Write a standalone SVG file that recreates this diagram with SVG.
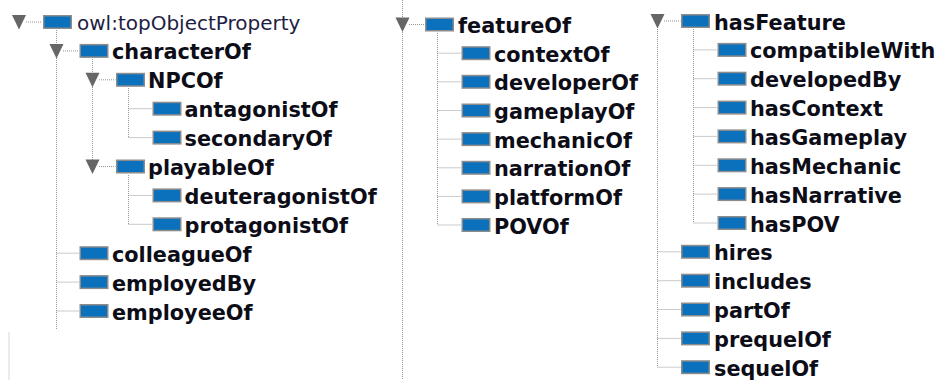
<svg xmlns="http://www.w3.org/2000/svg" xmlns:xlink="http://www.w3.org/1999/xlink" width="936" height="380" viewBox="0 0 936 380">
  <style>
    .lbl { font-family: "DejaVu Sans", Verdana, sans-serif; font-size: 20.8px; font-weight: bold; fill: #0d0d18; }
    .root { font-family: "DejaVu Sans", Verdana, sans-serif; font-size: 20px; font-weight: normal; fill: #1e1e44; }
    .dot { stroke: #969696; stroke-width: 1; stroke-dasharray: 1 1; fill: none; }
  </style>
  <defs>
    <!-- object property icon: blue bar with grey frame -->
    <g id="prop">
      <rect x="0.75" y="-6.25" width="27.5" height="12.5" fill="#0b71bd" stroke="#8c8c8c" stroke-width="1.5"/>
    </g>
    <!-- expanded-node toggle -->
    <path id="tri" d="M-7 -7 H7 L0 7.5 Z" fill="#666666"/>
  </defs>

  <rect width="936" height="380" fill="#ffffff"/>
  <line x1="9" y1="332" x2="9" y2="380" stroke="#ebebeb" stroke-width="2"/>

  <!-- tree connectors -->
  <g id="connectors">
    <!-- column 1 -->
    <line class="dot" x1="56.5" y1="30" x2="56.5" y2="330"/>
    <line class="dot" x1="92.5" y1="59" x2="92.5" y2="166.5"/>
    <line class="dot" x1="128.5" y1="88" x2="128.5" y2="137.6"/>
    <line class="dot" x1="128.5" y1="175" x2="128.5" y2="224.3"/>
    <line class="dot" x1="26" y1="22" x2="42" y2="22"/>
    <line class="dot" x1="63" y1="50.9" x2="79" y2="50.9"/>
    <line class="dot" x1="99" y1="79.8" x2="115.5" y2="79.8"/>
    <line class="dot" x1="128.5" y1="108.7" x2="152" y2="108.7"/>
    <line class="dot" x1="128.5" y1="137.6" x2="152" y2="137.6"/>
    <line class="dot" x1="99" y1="166.5" x2="115.5" y2="166.5"/>
    <line class="dot" x1="128.5" y1="195.4" x2="152" y2="195.4"/>
    <line class="dot" x1="128.5" y1="224.3" x2="152" y2="224.3"/>
    <line class="dot" x1="56.5" y1="253.2" x2="79" y2="253.2"/>
    <line class="dot" x1="56.5" y1="282.1" x2="79" y2="282.1"/>
    <line class="dot" x1="56.5" y1="311" x2="79" y2="311"/>
    <!-- column 2 -->
    <line class="dot" x1="402.5" y1="0" x2="402.5" y2="380"/>
    <line class="dot" x1="437.5" y1="33" x2="437.5" y2="225"/>
    <line class="dot" x1="409" y1="24.5" x2="424.5" y2="24.5"/>
    <line class="dot" x1="437.5" y1="53.2" x2="461" y2="53.2"/>
    <line class="dot" x1="437.5" y1="81.8" x2="461" y2="81.8"/>
    <line class="dot" x1="437.5" y1="110.5" x2="461" y2="110.5"/>
    <line class="dot" x1="437.5" y1="139.1" x2="461" y2="139.1"/>
    <line class="dot" x1="437.5" y1="167.8" x2="461" y2="167.8"/>
    <line class="dot" x1="437.5" y1="196.4" x2="461" y2="196.4"/>
    <line class="dot" x1="437.5" y1="225" x2="461" y2="225"/>
    <!-- column 3 -->
    <line class="dot" x1="657.5" y1="29" x2="657.5" y2="367.2"/>
    <line class="dot" x1="693.5" y1="29" x2="693.5" y2="223"/>
    <line class="dot" x1="664" y1="21" x2="680.5" y2="21"/>
    <line class="dot" x1="693.5" y1="49.9" x2="717" y2="49.9"/>
    <line class="dot" x1="693.5" y1="78.7" x2="717" y2="78.7"/>
    <line class="dot" x1="693.5" y1="107.6" x2="717" y2="107.6"/>
    <line class="dot" x1="693.5" y1="136.4" x2="717" y2="136.4"/>
    <line class="dot" x1="693.5" y1="165.3" x2="717" y2="165.3"/>
    <line class="dot" x1="693.5" y1="194.1" x2="717" y2="194.1"/>
    <line class="dot" x1="693.5" y1="223" x2="717" y2="223"/>
    <line class="dot" x1="657.5" y1="251.8" x2="680.5" y2="251.8"/>
    <line class="dot" x1="657.5" y1="280.7" x2="680.5" y2="280.7"/>
    <line class="dot" x1="657.5" y1="309.5" x2="680.5" y2="309.5"/>
    <line class="dot" x1="657.5" y1="338.4" x2="680.5" y2="338.4"/>
    <line class="dot" x1="657.5" y1="367.2" x2="680.5" y2="367.2"/>
  </g>

  <!-- column 1 -->
  <g id="topObjectProperty"><use xlink:href="#tri" x="19" y="22"/><use xlink:href="#prop" x="43" y="22"/><text class="root" x="77" y="30">owl:topObjectProperty</text></g>
  <g id="characterOf"><use xlink:href="#tri" x="56.5" y="50.9"/><use xlink:href="#prop" x="79.5" y="50.9"/><text class="lbl" x="112" y="59.4">characterOf</text></g>
  <g id="NPCOf"><use xlink:href="#tri" x="92.5" y="79.8"/><use xlink:href="#prop" x="116" y="79.8"/><text class="lbl" x="148" y="88.3">NPCOf</text></g>
  <g id="antagonistOf"><use xlink:href="#prop" x="152.5" y="108.7"/><text class="lbl" x="184.5" y="117.2">antagonistOf</text></g>
  <g id="secondaryOf"><use xlink:href="#prop" x="152.5" y="137.6"/><text class="lbl" x="184.5" y="146.1">secondaryOf</text></g>
  <g id="playableOf"><use xlink:href="#tri" x="92.5" y="166.5"/><use xlink:href="#prop" x="116" y="166.5"/><text class="lbl" x="148" y="175">playableOf</text></g>
  <g id="deuteragonistOf"><use xlink:href="#prop" x="152.5" y="195.4"/><text class="lbl" x="184.5" y="203.9">deuteragonistOf</text></g>
  <g id="protagonistOf"><use xlink:href="#prop" x="152.5" y="224.3"/><text class="lbl" x="184.5" y="232.8">protagonistOf</text></g>
  <g id="colleagueOf"><use xlink:href="#prop" x="79.5" y="253.2"/><text class="lbl" x="112" y="261.7">colleagueOf</text></g>
  <g id="employedBy"><use xlink:href="#prop" x="79.5" y="282.1"/><text class="lbl" x="112" y="290.6">employedBy</text></g>
  <g id="employeeOf"><use xlink:href="#prop" x="79.5" y="311"/><text class="lbl" x="112" y="319.5">employeeOf</text></g>

  <!-- column 2 -->
  <g id="featureOf"><use xlink:href="#tri" x="402.5" y="24.5"/><use xlink:href="#prop" x="425" y="24.5"/><text class="lbl" x="458" y="33">featureOf</text></g>
  <g id="contextOf"><use xlink:href="#prop" x="461.5" y="53.2"/><text class="lbl" x="494" y="61.7">contextOf</text></g>
  <g id="developerOf"><use xlink:href="#prop" x="461.5" y="81.8"/><text class="lbl" x="494" y="90.3">developerOf</text></g>
  <g id="gameplayOf"><use xlink:href="#prop" x="461.5" y="110.5"/><text class="lbl" x="494" y="119">gameplayOf</text></g>
  <g id="mechanicOf"><use xlink:href="#prop" x="461.5" y="139.1"/><text class="lbl" x="494" y="147.6">mechanicOf</text></g>
  <g id="narrationOf"><use xlink:href="#prop" x="461.5" y="167.8"/><text class="lbl" x="494" y="176.3">narrationOf</text></g>
  <g id="platformOf"><use xlink:href="#prop" x="461.5" y="196.4"/><text class="lbl" x="494" y="204.9">platformOf</text></g>
  <g id="POVOf"><use xlink:href="#prop" x="461.5" y="225"/><text class="lbl" x="494" y="233.5">POVOf</text></g>

  <!-- column 3 -->
  <g id="hasFeature"><use xlink:href="#tri" x="657.5" y="21"/><use xlink:href="#prop" x="681" y="21"/><text class="lbl" x="714" y="29.5">hasFeature</text></g>
  <g id="compatibleWith"><use xlink:href="#prop" x="717.5" y="49.9"/><text class="lbl" x="750" y="58.4">compatibleWith</text></g>
  <g id="developedBy"><use xlink:href="#prop" x="717.5" y="78.7"/><text class="lbl" x="750" y="87.2">developedBy</text></g>
  <g id="hasContext"><use xlink:href="#prop" x="717.5" y="107.6"/><text class="lbl" x="750" y="116.1">hasContext</text></g>
  <g id="hasGameplay"><use xlink:href="#prop" x="717.5" y="136.4"/><text class="lbl" x="750" y="144.9">hasGameplay</text></g>
  <g id="hasMechanic"><use xlink:href="#prop" x="717.5" y="165.3"/><text class="lbl" x="750" y="173.8">hasMechanic</text></g>
  <g id="hasNarrative"><use xlink:href="#prop" x="717.5" y="194.1"/><text class="lbl" x="750" y="202.6">hasNarrative</text></g>
  <g id="hasPOV"><use xlink:href="#prop" x="717.5" y="223"/><text class="lbl" x="750" y="231.5">hasPOV</text></g>
  <g id="hires"><use xlink:href="#prop" x="681" y="251.8"/><text class="lbl" x="714" y="260.3">hires</text></g>
  <g id="includes"><use xlink:href="#prop" x="681" y="280.7"/><text class="lbl" x="714" y="289.2">includes</text></g>
  <g id="partOf"><use xlink:href="#prop" x="681" y="309.5"/><text class="lbl" x="714" y="318">partOf</text></g>
  <g id="prequelOf"><use xlink:href="#prop" x="681" y="338.4"/><text class="lbl" x="714" y="346.9">prequelOf</text></g>
  <g id="sequelOf"><use xlink:href="#prop" x="681" y="367.2"/><text class="lbl" x="714" y="375.7">sequelOf</text></g>
</svg>
